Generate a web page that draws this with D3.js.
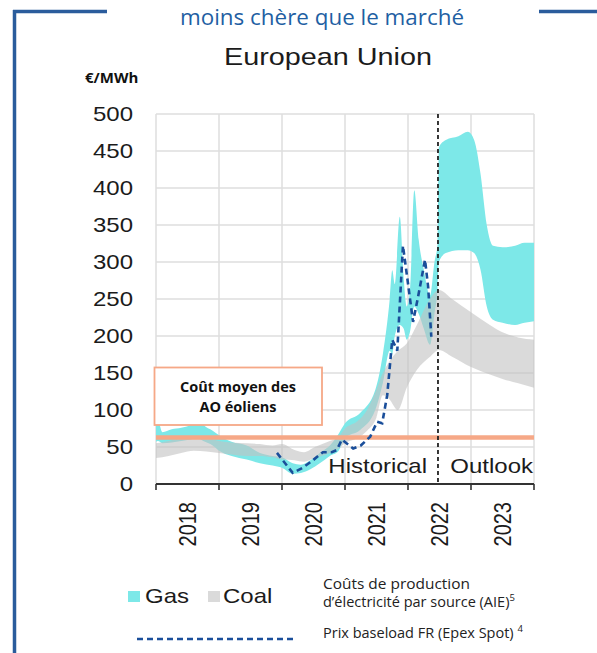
<!DOCTYPE html>
<html><head><meta charset="utf-8">
<script src="https://cdn.jsdelivr.net/npm/d3@7"></script>
<style>body{margin:0;background:#fff}svg{display:block}</style>
</head><body>
<svg id="c" width="597" height="653"></svg>
<script>
// ---------- data ----------
const yTicks = [0, 50, 100, 150, 200, 250, 300, 350, 400, 450, 500];
const yearEdges = [2018, 2019, 2020, 2021, 2022, 2023, 2024];
const yearLabels = ["2018", "2019", "2020", "2021", "2022", "2023"];

const gasDates = [2018.0, 2018.03, 2018.1, 2018.25, 2018.4, 2018.55, 2018.65, 2018.75, 2018.9, 2019.0, 2019.2, 2019.44, 2019.65, 2019.85, 2020.0, 2020.17, 2020.3, 2020.45, 2020.6, 2020.76, 2020.9, 2021.0, 2021.24, 2021.48, 2021.6, 2021.71, 2021.75, 2021.79, 2021.87, 2021.93, 2021.98, 2022.03, 2022.1, 2022.17, 2022.25, 2022.35, 2022.42, 2022.47, 2022.49, 2022.6, 2022.8, 2022.95, 2023.05, 2023.15, 2023.25, 2023.35, 2023.5, 2023.7, 2023.85, 2024.0];
const gasLow  = [57, 58, 55, 56, 58, 60, 62, 58, 52, 45, 38, 33, 28, 25, 22, 14, 15, 20, 28, 38, 45, 62, 73, 100, 136, 180, 175, 200, 215, 210, 195, 205, 240, 230, 210, 188, 230, 265, 300, 312, 316, 316, 312, 290, 240, 222, 218, 215, 218, 220];
const gasHigh = [80, 86, 70, 74, 76, 80, 92, 80, 72, 66, 57, 52, 42, 38, 36, 28, 26, 32, 42, 52, 68, 82, 96, 127, 175, 250, 289, 270, 361, 280, 240, 260, 397, 330, 290, 255, 300, 325, 455, 465, 470, 476, 465, 420, 350, 322, 320, 322, 326, 326];

const coalDates = [2018.0, 2018.2, 2018.4, 2018.6, 2018.8, 2019.0, 2019.2, 2019.44, 2019.65, 2019.85, 2020.0, 2020.2, 2020.35, 2020.52, 2020.76, 2020.9, 2021.0, 2021.2, 2021.35, 2021.5, 2021.6, 2021.7, 2021.84, 2021.98, 2022.14, 2022.35, 2022.49, 2022.7, 2023.0, 2023.3, 2023.5, 2023.75, 2024.0];
const coalLow  = [35, 38, 42, 45, 44, 42, 40, 38, 38, 36, 33, 32, 30, 35, 42, 48, 55, 62, 72, 90, 120, 115, 100, 130, 154, 172, 181, 172, 158, 148, 142, 136, 130];
const coalHigh = [55, 58, 62, 65, 62, 58, 56, 55, 54, 52, 54, 46, 43, 50, 58, 64, 75, 85, 100, 128, 150, 165, 180, 190, 215, 250, 262, 250, 232, 215, 205, 198, 195];

const priceDates  = [2019.92, 2020.17, 2020.33, 2020.49, 2020.65, 2020.79, 2020.87, 2020.95, 2021.13, 2021.25, 2021.40, 2021.51, 2021.59, 2021.67, 2021.75, 2021.83, 2021.92, 2022.0, 2022.08, 2022.16, 2022.27, 2022.32, 2022.37];
const priceValues = [42, 15, 22, 32, 43, 43, 46, 60, 48, 52, 64, 84, 82, 120, 195, 180, 322, 271, 219, 253, 303, 266, 199];

const windCost = 63;
const outlookStart = 2022.476;

const headerText = "moins chère que le marché";
const titleText = "European Union";
const unitText = "€/MWh";
const boxLines = ["Coût moyen des", "AO éoliens"];
const periodLabels = ["Historical", "Outlook"];
const legendNames = ["Gas", "Coal"];

// ---------- setup ----------
const svg = d3.select("#c");
const blue = "#2a5c9c";
const gasColor = "#7de8e8";
const coalColor = "#c2c2c2";
const orange = "#f6a887";
const ARIAL = "'Liberation Sans', Arial, sans-serif";
const OPEN = "'Open Sans', 'Noto Sans', sans-serif";

const x = d3.scaleLinear().domain([2018, 2024]).range([156, 534]);
const y = d3.scaleLinear().domain([0, 500]).range([484, 114]);

function sText(g, px, py, str, anchor, size, extra) {
  const t = g.append("text")
    .attr("transform", `translate(${px},${py}) scale(1.2,1)` + (extra || ""))
    .attr("text-anchor", anchor)
    .style("font-family", ARIAL)
    .style("font-size", size + "px")
    .attr("fill", "#1b1b1b")
    .text(str);
  return t;
}

// frame
svg.append("line").attr("x1", 13).attr("x2", 107).attr("y1", 11.5).attr("y2", 11.5).attr("stroke", blue).attr("stroke-width", 3.5);
svg.append("line").attr("x1", 14.5).attr("x2", 14.5).attr("y1", 10).attr("y2", 653).attr("stroke", blue).attr("stroke-width", 3.5);
svg.append("line").attr("x1", 539).attr("x2", 597).attr("y1", 11.5).attr("y2", 11.5).attr("stroke", blue).attr("stroke-width", 3.5);

// header
svg.append("text").attr("x", 322).attr("y", 25).attr("text-anchor", "middle")
  .style("font-family", OPEN).style("font-size", "21.5px").attr("fill", "#1f5fa3")
  .attr("textLength", 284).attr("lengthAdjust", "spacingAndGlyphs")
  .text(headerText);

// title
sText(svg, 328, 65, titleText, "middle", 24);

// unit
svg.append("text").attr("x", 85).attr("y", 83)
  .style("font-family", OPEN).style("font-size", "15px").style("font-weight", "bold")
  .attr("fill", "#111").text(unitText);

// grid
const grid = svg.append("g");
grid.selectAll("line.h").data(yTicks.filter(d => d > 0)).join("line")
  .attr("x1", x(2018)).attr("x2", x(2024))
  .attr("y1", d => y(d)).attr("y2", d => y(d))
  .attr("stroke", "#dedede").attr("stroke-width", 1.5);
grid.selectAll("line.v").data(yearEdges).join("line")
  .attr("x1", d => x(d)).attr("x2", d => x(d))
  .attr("y1", y(500)).attr("y2", y(0))
  .attr("stroke", "#dedede").attr("stroke-width", 1.5);

// bands
const gasData = gasDates.map((t, i) => ({ t, lo: gasLow[i], hi: gasHigh[i] }));
const coalData = coalDates.map((t, i) => ({ t, lo: coalLow[i], hi: coalHigh[i] }));
const area = d3.area().x(d => x(d.t)).y0(d => y(d.lo)).y1(d => y(d.hi)).curve(d3.curveMonotoneX);
svg.append("path").datum(gasData).attr("d", area).attr("fill", gasColor);
svg.append("path").datum(coalData).attr("d", area).attr("fill", coalColor).attr("fill-opacity", 0.6);

// wind cost line
svg.append("line").attr("x1", x(2018)).attr("x2", x(2024))
  .attr("y1", y(windCost)).attr("y2", y(windCost))
  .attr("stroke", orange).attr("stroke-width", 4.5);

// box
svg.append("rect").attr("x", 154.5).attr("y", 367.5).attr("width", 167.5).attr("height", 57.5)
  .attr("fill", "#fff").attr("stroke", orange).attr("stroke-width", 1.8);
boxLines.forEach((s, i) => {
  svg.append("text").attr("x", 238).attr("y", 392 + i * 20).attr("text-anchor", "middle")
    .style("font-family", OPEN).style("font-size", "14.5px").style("font-weight", "bold")
    .attr("fill", "#111").text(s);
});

// price line
const priceData = priceDates.map((t, i) => ({ t, v: priceValues[i] }));
svg.append("path").datum(priceData)
  .attr("d", d3.line().x(d => x(d.t)).y(d => y(d.v)))
  .attr("fill", "none").attr("stroke", "#1a4e9a").attr("stroke-width", 2.6)
  .attr("stroke-dasharray", "6,4");

// outlook divider
svg.append("line").attr("x1", x(outlookStart)).attr("x2", x(outlookStart))
  .attr("y1", y(500)).attr("y2", y(0))
  .attr("stroke", "#222").attr("stroke-width", 1.8).attr("stroke-dasharray", "4,3");

// period labels
sText(svg, x(outlookStart) - 11, 473, periodLabels[0], "end", 20);
sText(svg, x(2024) - 1, 473, periodLabels[1], "end", 20);

// x axis
svg.append("line").attr("x1", x(2018)).attr("x2", x(2024)).attr("y1", y(0)).attr("y2", y(0))
  .attr("stroke", "#333").attr("stroke-width", 2);
svg.selectAll("line.tick").data(yearEdges).join("line")
  .attr("x1", d => x(d)).attr("x2", d => x(d)).attr("y1", y(0)).attr("y2", y(0) + 6)
  .attr("stroke", "#333").attr("stroke-width", 1.6);
yearLabels.forEach((s, i) => {
  const cx = (x(yearEdges[i]) + x(yearEdges[i + 1])) / 2;
  sText(svg, cx, 502, s, "end", 20, " rotate(-90)").attr("dy", "0.36em");
});

// y labels
yTicks.forEach(v => {
  sText(svg, 133, y(v), String(v), "end", 20).attr("dy", "0.36em");
});

// legend
svg.append("rect").attr("x", 128).attr("y", 591).attr("width", 12).attr("height", 11).attr("fill", gasColor);
sText(svg, 145, 603, legendNames[0], "start", 20);
svg.append("rect").attr("x", 208).attr("y", 591).attr("width", 12).attr("height", 11).attr("fill", "#dadada");
sText(svg, 223, 603, legendNames[1], "start", 20);

svg.append("line").attr("x1", 137).attr("x2", 294).attr("y1", 639).attr("y2", 639)
  .attr("stroke", "#1a4e9a").attr("stroke-width", 2.6).attr("stroke-dasharray", "6,4");

const lg = svg.append("g").style("font-family", OPEN).style("font-size", "14.5px").attr("fill", "#222");
lg.append("text").attr("x", 323).attr("y", 589).attr("textLength", 147).attr("lengthAdjust", "spacingAndGlyphs").text("Coûts de production");
const l2 = lg.append("text").attr("x", 323).attr("y", 607);
l2.append("tspan").text("d’électricité par source (AIE)");
l2.append("tspan").attr("dy", -6).style("font-size", "9.5px").text("5");
const l3 = lg.append("text").attr("x", 323).attr("y", 638);
l3.append("tspan").text("Prix baseload FR (Epex Spot) ");
l3.append("tspan").attr("dy", -6).style("font-size", "9.5px").text("4");
</script>
</body></html>
